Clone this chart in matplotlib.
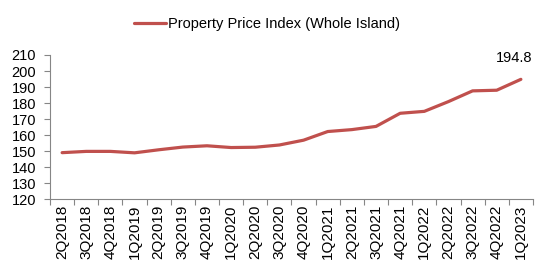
import numpy as np
import matplotlib.pyplot as plt

plt.rcParams['font.family'] = ['Liberation Sans', 'DejaVu Sans']

quarters = ['2Q2018', '3Q2018', '4Q2018', '1Q2019', '2Q2019', '3Q2019', '4Q2019',
            '1Q2020', '2Q2020', '3Q2020', '4Q2020', '1Q2021', '2Q2021', '3Q2021',
            '4Q2021', '1Q2022', '2Q2022', '3Q2022', '4Q2022', '1Q2023']
ppi = [149.0, 149.8, 149.8, 148.9, 150.8, 152.5, 153.3, 152.2, 152.4, 153.8,
       156.8, 162.2, 163.4, 165.4, 173.6, 174.8, 180.9, 187.6, 188.0, 194.8]
label_text = '194.8'

fig = plt.figure(figsize=(5.5, 2.75), dpi=100)
ax = fig.add_axes([0.091, 0.276, 0.878, 0.524])

x = np.arange(len(quarters))
line, = ax.plot(x, ppi, color='#C0504D', lw=2.3, solid_capstyle='round',
                label='Property Price Index (Whole Island)')

ax.annotate(label_text, (x[-1], ppi[-1]), xytext=(-5, 10), textcoords='offset points',
            ha='center', va='bottom', fontsize=10.5)

ax.set_xlim(-0.5, len(quarters) - 0.5)
ax.set_ylim(120, 210)
ax.set_yticks(np.arange(120, 211, 10))
ax.set_xticks(x)
ax.set_xticklabels(quarters, rotation=90, fontsize=11)
ax.set_xticks(np.arange(-0.5, len(quarters), 1), minor=True)
ax.tick_params(axis='x', which='major', length=0, pad=4)
ax.tick_params(axis='x', which='minor', length=4, color='#868686', width=0.8)
ax.tick_params(axis='y', length=4, color='#868686', width=0.8, labelsize=10.5, pad=6)

for s in ['top', 'right']:
    ax.spines[s].set_visible(False)
for s in ['left', 'bottom']:
    ax.spines[s].set_color('#868686')
    ax.spines[s].set_linewidth(0.8)

fig.legend(handles=[line], loc='center', bbox_to_anchor=(0.486, 0.913), frameon=False,
           fontsize=10.5, handlelength=2.2, handletextpad=0.15)

fig.savefig('out.png', dpi=100)
